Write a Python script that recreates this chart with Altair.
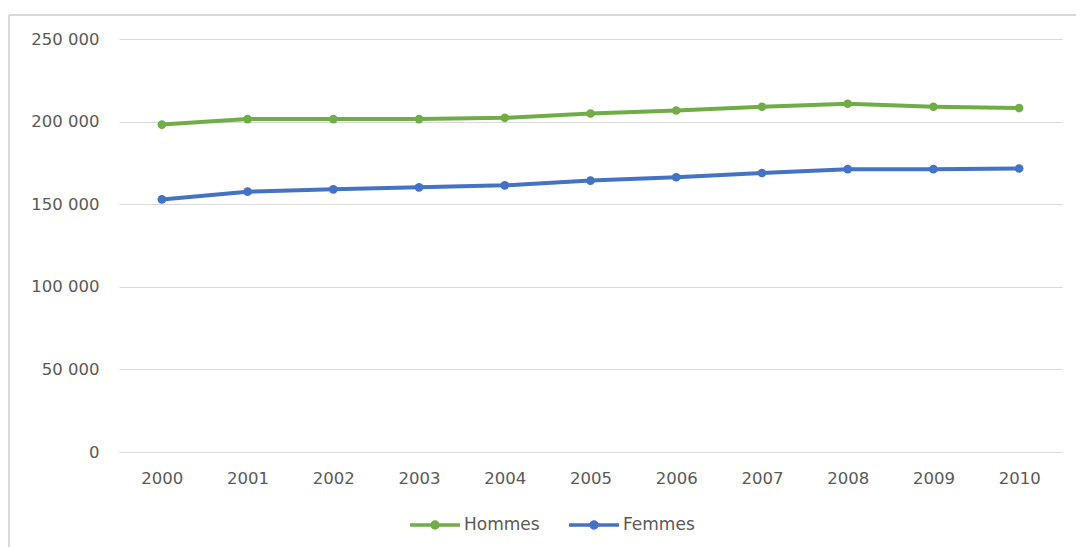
import altair as alt
import pandas as pd

years = ["2000", "2001", "2002", "2003", "2004", "2005", "2006", "2007", "2008", "2009", "2010"]
hommes = [198200, 201500, 201500, 201500, 202300, 204900, 206700, 209000, 210800, 209000, 208200]
femmes = [152900, 157600, 159000, 160200, 161400, 164300, 166300, 168900, 171200, 171200, 171600]
series_names = ["Hommes", "Femmes"]
series_colors = ["#70AD47", "#4472C4"]

rows = []
for y, h, f in zip(years, hommes, femmes):
    rows.append({"annee": y, "serie": "Hommes", "valeur": h})
    rows.append({"annee": y, "serie": "Femmes", "valeur": f})
df = pd.DataFrame(rows)

FONT = "DejaVu Sans"
GRAY = "#595959"

lines = alt.Chart(df).mark_line(
    strokeWidth=4,
    point=alt.OverlayMarkDef(size=75, filled=True, opacity=1),
).encode(
    x=alt.X("annee:O", title=None, sort=years,
            axis=alt.Axis(labelAngle=0, ticks=False, domain=True, domainColor="#d9d9d9",
                          labelPadding=18, labelFont=FONT, labelFontSize=16.5, labelColor=GRAY,
                          grid=False)),
    y=alt.Y("valeur:Q", title=None,
            scale=alt.Scale(domain=[0, 250000], nice=False),
            axis=alt.Axis(values=[0, 50000, 100000, 150000, 200000, 250000],
                          labelExpr="replace(format(datum.value, ','), /,/g, ' ')",
                          ticks=False, domain=False, gridColor="#d9d9d9", gridWidth=1,
                          labelPadding=20, labelFont=FONT, labelFontSize=16.5, labelColor=GRAY)),
    color=alt.Color("serie:N", sort=series_names,
                    scale=alt.Scale(domain=series_names, range=series_colors),
                    legend=alt.Legend(title=None, orient="none", direction="horizontal",
                                      legendX=289, legendY=459,
                                      symbolType="M-1,0L1,0M0.12,0A0.12,0.12,0,1,1,-0.12,0A0.12,0.12,0,1,1,0.12,0Z",
                                      symbolSize=2500, symbolStrokeWidth=3.5,
                                      labelFont=FONT, labelFontSize=17, labelColor=GRAY,
                                      labelOffset=2, columnPadding=22)),
)

border_top = alt.Chart().mark_rule(color="#d9d9d9", strokeWidth=2).encode(
    x=alt.value(-110), x2=alt.value(960), y=alt.value(-24))
border_left = alt.Chart().mark_rule(color="#d9d9d9", strokeWidth=2).encode(
    x=alt.value(-110), y=alt.value(-24), y2=alt.value(510))

chart = alt.layer(border_top, border_left, lines).properties(
    width=943, height=413,
    autosize=alt.AutoSizeParams(type="none"),
    padding={"left": 119, "top": 39, "right": 14, "bottom": 95},
).configure(background="white").configure_view(stroke=None, strokeWidth=0)

chart.save("out.html", embed_options={"renderer": "svg", "actions": False})
